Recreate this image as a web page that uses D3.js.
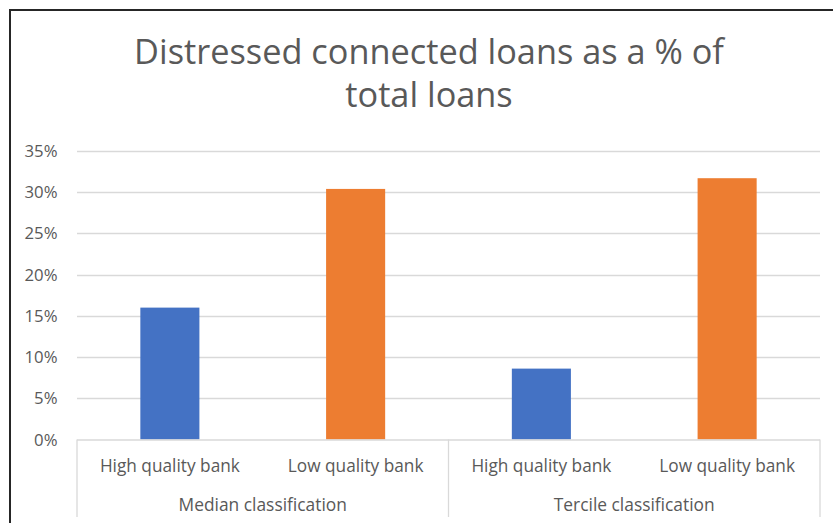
<!DOCTYPE html>
<html>
<head>
<meta charset="utf-8">
<script src="https://cdn.jsdelivr.net/npm/d3@7"></script>
<style>
  html, body { margin: 0; padding: 0; background: #fff; }
  svg { display: block; }
</style>
</head>
<body>
<svg id="chart" width="833" height="523"></svg>
<script>
// ---- data ----
const titleLines = ["Distressed connected loans as a % of", "total loans"];
const groups = ["Median classification", "Tercile classification"];
const categories = ["High quality bank", "Low quality bank"];
const medianValues = [16.0, 30.4];
const tercileValues = [8.6, 31.7];
const yTicks = [0, 5, 10, 15, 20, 25, 30, 35];
const barColors = ["#4472C4", "#ED7D31"];

(function () {
const groupValues = [medianValues, tercileValues];
const rows = [];
groups.forEach((g, gi) => categories.forEach((c, ci) => {
  rows.push({ key: g + "|" + c, group: g, cat: c, ci, value: groupValues[gi][ci] });
}));

// ---- layout ----
const svg = d3.select("#chart");
const W = 833, H = 523;
const pLeft = 77, pRight = 820, pTop = 151, pBottom = 439.5, axisBottom = 517;
const font = "'Open Sans', 'Noto Sans', sans-serif";
const textColor = "#595959";

svg.append("rect").attr("width", W).attr("height", H).attr("fill", "#fff");
// outer chart border (extends past the window on right and bottom)
svg.append("rect").attr("x", 10).attr("y", 10).attr("width", 900).attr("height", 600)
  .attr("fill", "none").attr("stroke", "#262626").attr("stroke-width", 2);

const x = d3.scaleBand().domain(rows.map(r => r.key)).range([pLeft, pRight])
  .paddingInner(0.682).paddingOuter(0.341);
const y = d3.scaleLinear().domain([0, 35]).range([pBottom, pTop]);

function fit(sel, target, base) {
  sel.attr("font-size", base);
  const w = sel.node().getComputedTextLength();
  const fs = base * target / w;
  sel.attr("font-size", fs);
  return fs;
}

// gridlines
svg.append("g").selectAll("line").data(yTicks.filter(d => d > 0)).join("line")
  .attr("x1", pLeft).attr("x2", pRight)
  .attr("y1", d => Math.round(y(d)) + 0.5).attr("y2", d => Math.round(y(d)) + 0.5)
  .attr("stroke", "#d9d9d9").attr("stroke-width", 1.3);

// y tick labels
const probe = svg.append("text").attr("font-family", font).text("35%");
const tickFs = fit(probe, 33, 16);
probe.remove();
svg.append("g").selectAll("text").data(yTicks).join("text")
  .attr("x", 57.5).attr("y", d => y(d) + 6)
  .attr("text-anchor", "end").attr("font-family", font).attr("font-size", tickFs)
  .attr("fill", textColor).text(d => d + "%");

// bars
svg.append("g").selectAll("rect").data(rows).join("rect")
  .attr("x", d => x(d.key)).attr("width", x.bandwidth())
  .attr("y", d => y(d.value)).attr("height", d => y(0) - y(d.value))
  .attr("fill", d => barColors[d.ci]);

// x axis baseline and separators
const axisG = svg.append("g").attr("stroke", "#d9d9d9").attr("stroke-width", 1.3);
axisG.append("line").attr("x1", pLeft).attr("x2", pRight).attr("y1", pBottom + 0.5).attr("y2", pBottom + 0.5);
const groupBounds = groups.map((g) => {
  const keys = rows.filter(r => r.group === g).map(r => x(r.key));
  const step = x.step();
  return [d3.min(keys) - step * x.paddingInner() / 2, d3.max(keys) + x.bandwidth() + step * x.paddingInner() / 2];
});
const seps = [groupBounds[0][0], groupBounds[0][1], groupBounds[1][1]];
axisG.selectAll("line.sep").data(seps).join("line").attr("class", "sep")
  .attr("x1", d => d).attr("x2", d => d).attr("y1", pBottom).attr("y2", axisBottom);

// category labels
const probe2 = svg.append("text").attr("font-family", font).text(categories[0]);
const catFs = fit(probe2, 140, 16);
probe2.remove();
svg.append("g").selectAll("text").data(rows).join("text")
  .attr("x", d => x(d.key) + x.bandwidth() / 2).attr("y", 471.5)
  .attr("text-anchor", "middle").attr("font-family", font).attr("font-size", catFs)
  .attr("fill", textColor).text(d => d.cat);

// group labels
const probe3 = svg.append("text").attr("font-family", font).text(groups[1]);
const grpFs = fit(probe3, 161, 16);
probe3.remove();
svg.append("g").selectAll("text").data(groups).join("text")
  .attr("x", (d, i) => (groupBounds[i][0] + groupBounds[i][1]) / 2).attr("y", 510.5)
  .attr("text-anchor", "middle").attr("font-family", font).attr("font-size", grpFs)
  .attr("fill", textColor).text(d => d);

// title
const probe4 = svg.append("text").attr("font-family", font).text(titleLines[0]);
const titleFs = fit(probe4, 590, 30);
probe4.remove();
svg.append("g").selectAll("text").data(titleLines).join("text")
  .attr("x", 429).attr("y", (d, i) => 64 + i * 42.5)
  .attr("text-anchor", "middle").attr("font-family", font).attr("font-size", titleFs)
  .attr("fill", textColor).text(d => d);
})();
</script>
</body>
</html>
